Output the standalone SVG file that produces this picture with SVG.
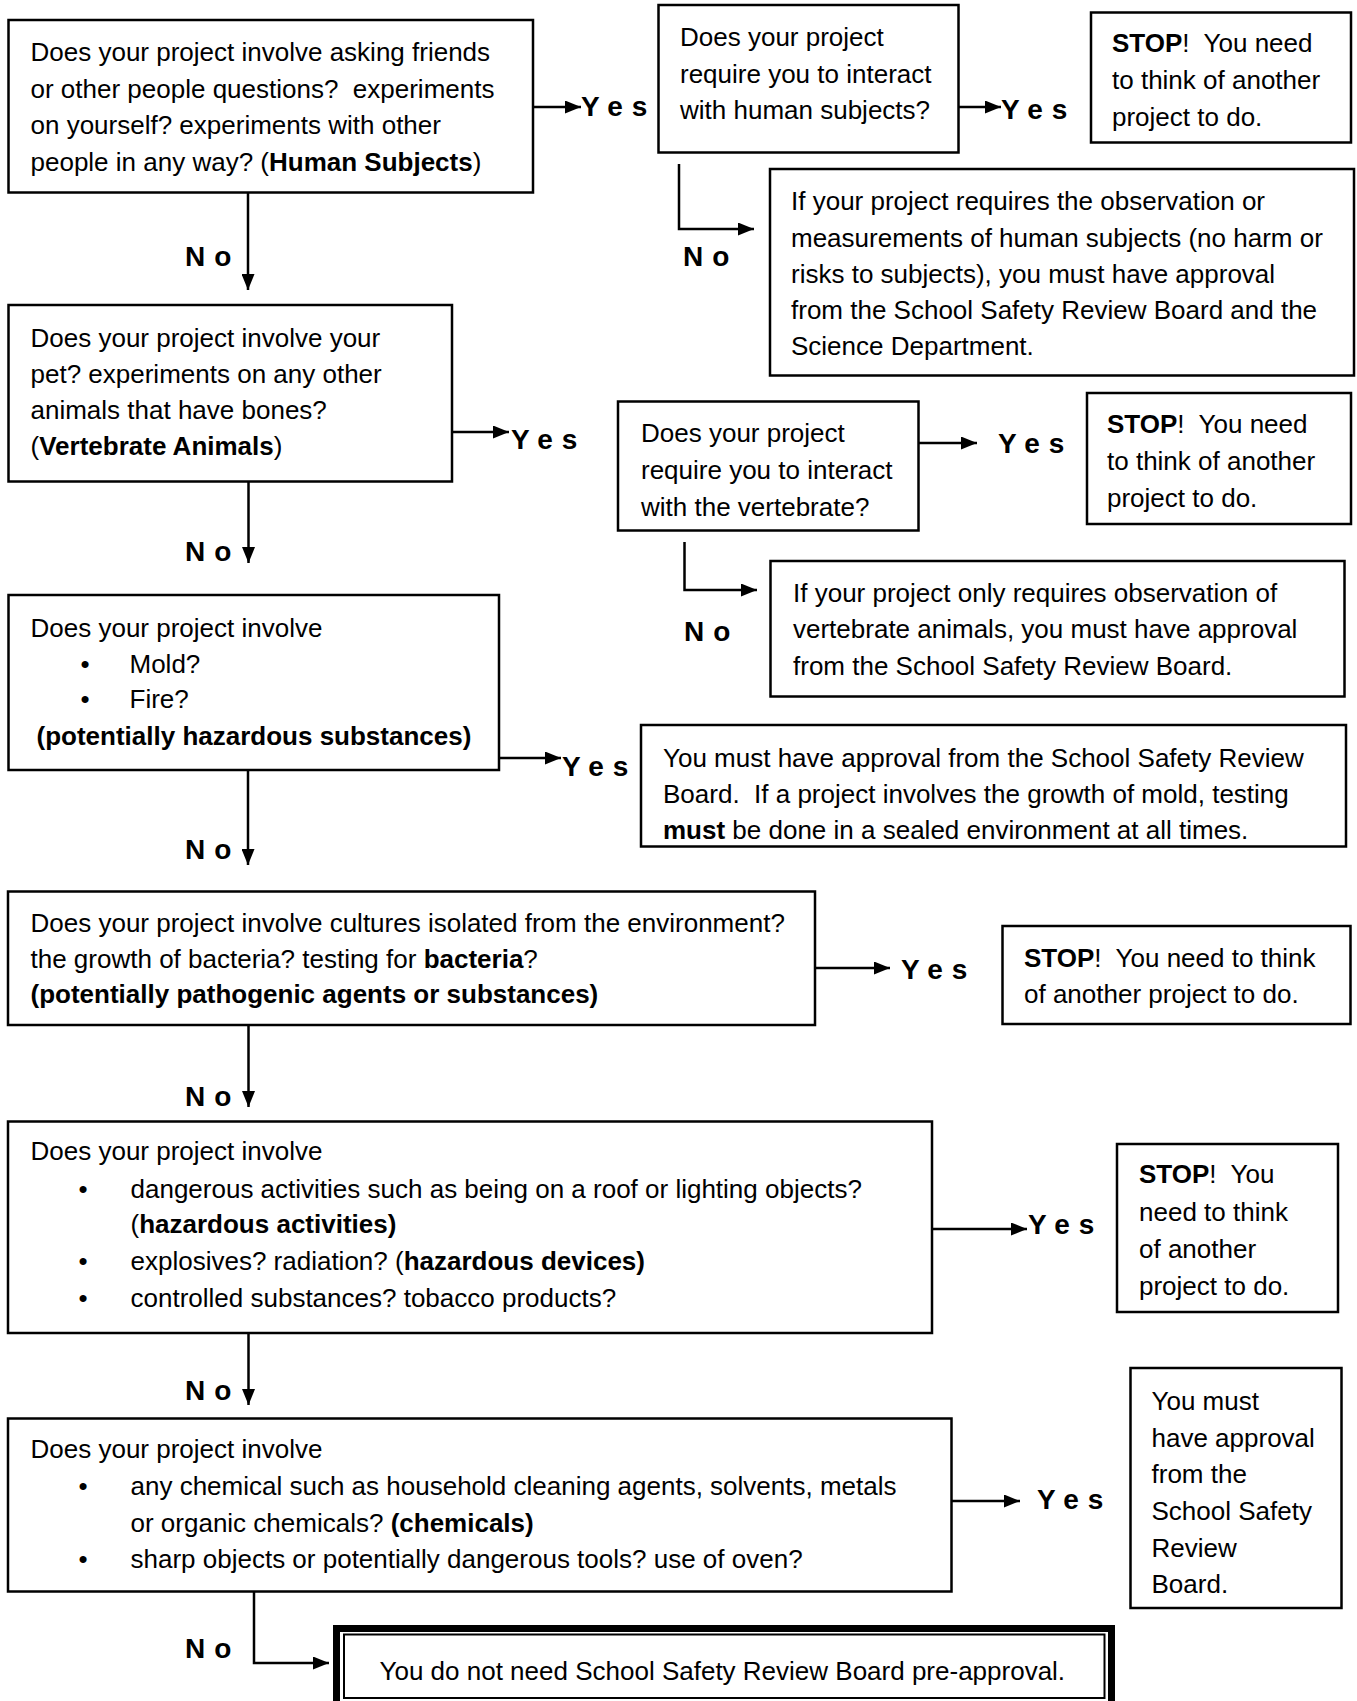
<svg xmlns="http://www.w3.org/2000/svg" width="1357" height="1701" viewBox="0 0 1357 1701">
<style>
.box{fill:#fff;stroke:#000;stroke-width:2.5}
.t{font-family:"Liberation Sans",Arial,sans-serif;font-size:26px;fill:#000;white-space:pre}
.b{font-weight:bold}
.yes{font-family:"Liberation Sans",Arial,sans-serif;font-size:28px;font-weight:bold;letter-spacing:9px;fill:#000}
.no{font-family:"Liberation Sans",Arial,sans-serif;font-size:28px;font-weight:bold;letter-spacing:9px;fill:#000}
.conn{fill:none;stroke:#000;stroke-width:2.5;marker-end:url(#ah)}
</style>
<defs>
<marker id="ah" markerUnits="userSpaceOnUse" markerWidth="16" markerHeight="13" refX="16" refY="6.5" orient="auto">
<path d="M0,0 L16,6.5 L0,13 z" fill="#000"/>
</marker>
</defs>
<rect width="1357" height="1701" fill="#fff"/>

<g id="connectors">
<path class="conn" d="M533,107 H581"/>
<path class="conn" d="M958.5,107 H1001"/>
<path class="conn" d="M679,164 V229 H754"/>
<path class="conn" d="M248,193 V290"/>
<path class="conn" d="M452,432 H509"/>
<path class="conn" d="M918.5,443 H977"/>
<path class="conn" d="M684.5,542 V590 H757"/>
<path class="conn" d="M248.5,482 V563"/>
<path class="conn" d="M499,758 H561"/>
<path class="conn" d="M248,770 V865"/>
<path class="conn" d="M815,968 H890"/>
<path class="conn" d="M248.5,1025 V1107"/>
<path class="conn" d="M932,1229 H1027"/>
<path class="conn" d="M248.5,1333 V1405"/>
<path class="conn" d="M951.5,1501 H1020"/>
<path class="conn" d="M254,1592 V1663 H329"/>
<text class="yes" x="581" y="116">Yes</text>
<text class="yes" x="1001" y="119">Yes</text>
<text class="no" x="683" y="266">No</text>
<text class="no" x="185" y="266">No</text>
<text class="yes" x="511" y="449">Yes</text>
<text class="yes" x="998" y="453">Yes</text>
<text class="no" x="684" y="641">No</text>
<text class="no" x="185" y="561">No</text>
<text class="yes" x="562" y="776">Yes</text>
<text class="no" x="185" y="859">No</text>
<text class="yes" x="901" y="979">Yes</text>
<text class="no" x="185" y="1106">No</text>
<text class="yes" x="1028" y="1234">Yes</text>
<text class="no" x="185" y="1400">No</text>
<text class="yes" x="1037" y="1509">Yes</text>
<text class="no" x="185" y="1658">No</text>
</g>

<g id="q-human">
<rect class="box" x="8.5" y="20" width="524.5" height="172.5"/>
<text class="t" x="30.5" y="61">Does your project involve asking friends</text>
<text class="t" x="30.5" y="97.5">or other people questions?  experiments</text>
<text class="t" x="30.5" y="134">on yourself? experiments with other</text>
<text class="t" x="30.5" y="170.5">people in any way? (<tspan class="b">Human Subjects</tspan>)</text>
</g>

<g id="q-interact-human">
<rect class="box" x="658.5" y="5" width="300" height="147.5"/>
<text class="t" x="680" y="46">Does your project</text>
<text class="t" x="680" y="83">require you to interact</text>
<text class="t" x="680" y="119">with human subjects?</text>
</g>

<g id="stop-human">
<rect class="box" x="1091" y="12.5" width="260" height="130"/>
<text class="t" x="1112" y="52"><tspan class="b">STOP</tspan>!  You need</text>
<text class="t" x="1112" y="89">to think of another</text>
<text class="t" x="1112" y="126">project to do.</text>
</g>

<g id="approve-human">
<rect class="box" x="770" y="169" width="584" height="206.5"/>
<text class="t" x="791" y="210">If your project requires the observation or</text>
<text class="t" x="791" y="247">measurements of human subjects (no harm or</text>
<text class="t" x="791" y="283">risks to subjects), you must have approval</text>
<text class="t" x="791" y="319">from the School Safety Review Board and the</text>
<text class="t" x="791" y="355">Science Department.</text>
</g>

<g id="q-vertebrate">
<rect class="box" x="8.5" y="305" width="443.5" height="176.5"/>
<text class="t" x="30.5" y="347">Does your project involve your</text>
<text class="t" x="30.5" y="383">pet? experiments on any other</text>
<text class="t" x="30.5" y="419">animals that have bones?</text>
<text class="t" x="30.5" y="455">(<tspan class="b">Vertebrate Animals</tspan>)</text>
</g>

<g id="q-interact-vertebrate">
<rect class="box" x="618" y="401.5" width="300.5" height="129"/>
<text class="t" x="641" y="442">Does your project</text>
<text class="t" x="641" y="479">require you to interact</text>
<text class="t" x="641" y="515.5">with the vertebrate?</text>
</g>

<g id="stop-vertebrate">
<rect class="box" x="1087" y="393" width="264" height="131"/>
<text class="t" x="1107" y="433"><tspan class="b">STOP</tspan>!  You need</text>
<text class="t" x="1107" y="470">to think of another</text>
<text class="t" x="1107" y="506.5">project to do.</text>
</g>

<g id="approve-vertebrate">
<rect class="box" x="770.5" y="561" width="574" height="135.5"/>
<text class="t" x="793" y="601.5">If your project only requires observation of</text>
<text class="t" x="793" y="638">vertebrate animals, you must have approval</text>
<text class="t" x="793" y="675">from the School Safety Review Board.</text>
</g>

<g id="q-hazardous-substances">
<rect class="box" x="8.5" y="595" width="490.5" height="175"/>
<text class="t" x="30.5" y="636.5">Does your project involve</text>
<text class="t" x="80.5" y="673">•</text>
<text class="t" x="129.5" y="673">Mold?</text>
<text class="t" x="80.5" y="708">•</text>
<text class="t" x="129.5" y="708">Fire?</text>
<text class="t b" x="36.5" y="745">(potentially hazardous substances)</text>
</g>

<g id="approve-mold">
<rect class="box" x="641" y="725" width="705" height="121.5"/>
<text class="t" x="663" y="766.5">You must have approval from the School Safety Review</text>
<text class="t" x="663" y="803">Board.  If a project involves the growth of mold, testing</text>
<text class="t" x="663" y="839"><tspan class="b">must</tspan> be done in a sealed environment at all times.</text>
</g>

<g id="q-pathogenic">
<rect class="box" x="8" y="891.5" width="807" height="133.5"/>
<text class="t" x="30.5" y="931.5">Does your project involve cultures isolated from the environment?</text>
<text class="t" x="30.5" y="968">the growth of bacteria? testing for <tspan class="b">bacteria</tspan>?</text>
<text class="t b" x="30.5" y="1003">(potentially pathogenic agents or substances)</text>
</g>

<g id="stop-pathogenic">
<rect class="box" x="1002.5" y="926" width="348" height="98"/>
<text class="t" x="1024" y="966.5"><tspan class="b">STOP</tspan>!  You need to think</text>
<text class="t" x="1024" y="1003">of another project to do.</text>
</g>

<g id="q-hazardous-activities">
<rect class="box" x="8" y="1121.5" width="924" height="211.5"/>
<text class="t" x="30.5" y="1160">Does your project involve</text>
<text class="t" x="78.5" y="1198">•</text>
<text class="t" x="130.5" y="1198">dangerous activities such as being on a roof or lighting objects?</text>
<text class="t" x="130.5" y="1233">(<tspan class="b">hazardous activities)</tspan></text>
<text class="t" x="78.5" y="1270">•</text>
<text class="t" x="130.5" y="1270">explosives? radiation? (<tspan class="b">hazardous devices)</tspan></text>
<text class="t" x="78.5" y="1306.5">•</text>
<text class="t" x="130.5" y="1306.5">controlled substances? tobacco products?</text>
</g>

<g id="stop-hazardous">
<rect class="box" x="1117" y="1144" width="221" height="168"/>
<text class="t" x="1139" y="1183"><tspan class="b">STOP</tspan>!  You</text>
<text class="t" x="1139" y="1221">need to think</text>
<text class="t" x="1139" y="1258">of another</text>
<text class="t" x="1139" y="1295">project to do.</text>
</g>

<g id="q-chemicals">
<rect class="box" x="8" y="1418.5" width="943.5" height="173"/>
<text class="t" x="30.5" y="1458">Does your project involve</text>
<text class="t" x="78.5" y="1495">•</text>
<text class="t" x="130.5" y="1495">any chemical such as household cleaning agents, solvents, metals</text>
<text class="t" x="130.5" y="1531.5">or organic chemicals? <tspan class="b">(chemicals)</tspan></text>
<text class="t" x="78.5" y="1568">•</text>
<text class="t" x="130.5" y="1568">sharp objects or potentially dangerous tools? use of oven?</text>
</g>

<g id="approve-chemicals">
<rect class="box" x="1130.5" y="1368" width="211" height="240"/>
<text class="t" x="1151.5" y="1410">You must</text>
<text class="t" x="1151.5" y="1446.5">have approval</text>
<text class="t" x="1151.5" y="1483">from the</text>
<text class="t" x="1151.5" y="1520">School Safety</text>
<text class="t" x="1151.5" y="1556.5">Review</text>
<text class="t" x="1151.5" y="1593">Board.</text>
</g>

<g id="no-approval-needed">
<rect x="336.5" y="1628.5" width="775" height="90" fill="#fff" stroke="#000" stroke-width="7"/>
<rect x="344" y="1634.5" width="760.5" height="63.5" fill="none" stroke="#000" stroke-width="2"/>
<text class="t" x="379.5" y="1680">You do not need School Safety Review Board pre-approval.</text>
</g>
</svg>
